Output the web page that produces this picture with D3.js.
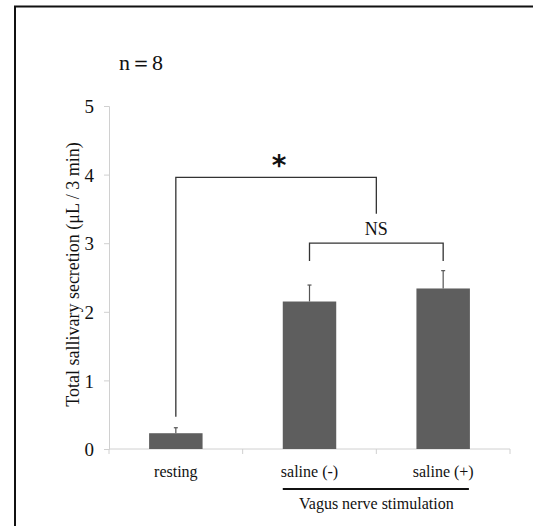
<!DOCTYPE html>
<html>
<head>
<meta charset="utf-8">
<script src="https://cdn.jsdelivr.net/npm/d3@7"></script>
<style>
  body { margin: 0; background: #fff; }
  svg text { font-family: "Liberation Serif", "Times New Roman", serif !important; fill: #111; }
  svg text.star { font-family: "DejaVu Sans", sans-serif !important; }
</style>
</head>
<body>
<div class="chart"></div>
<script>
// data
var categories = ["resting", "saline (-)", "saline (+)"];
var means = [0.23, 2.15, 2.34];
var errors = [0.08, 0.24, 0.26];
var yTicks = [0, 1, 2, 3, 4, 5];

var svgWidth = 533;
var svgHeight = 526;
var margin = {top: 106, right: 23, bottom: 77, left: 109};
var width = svgWidth - margin.left - margin.right;
var height = svgHeight - margin.top - margin.bottom;

var root = d3.select(".chart").append("svg")
  .attr("width", svgWidth)
  .attr("height", svgHeight);

// frame (only top and left edges fall inside the picture)
root.append("path")
  .attr("d", "M15," + svgHeight + "V6.5H" + svgWidth)
  .attr("fill", "none")
  .attr("stroke", "#111")
  .attr("stroke-width", 2);

root.append("text")
  .attr("x", 119).attr("y", 70)
  .style("font-size", "22px")
  .text("n\uff1d8");

var svg = root.append("g")
  .attr("transform", "translate(" + margin.left + "," + margin.top + ")");

var x = d3.scaleBand().domain(categories).range([0, width]).paddingInner(0.6).paddingOuter(0.3);
var y = d3.scaleLinear().domain([0, 5]).range([height, 0]);

// y axis
var yAxis = svg.append("g").call(d3.axisLeft(y).tickValues(yTicks).tickSize(5).tickFormat(d3.format("d")));
yAxis.attr("font-family", null);
yAxis.selectAll("line, path").attr("stroke", "#d0d0d0");
yAxis.selectAll("text").attr("x", -15).attr("dy", "0.35em").style("font-size", "19px");

// x axis line with ticks at band borders
svg.append("line")
  .attr("x1", 0).attr("x2", width)
  .attr("y1", height).attr("y2", height)
  .attr("stroke", "#d0d0d0");
d3.range(categories.length + 1).forEach(function(i) {
  svg.append("line")
    .attr("x1", i * width / categories.length).attr("x2", i * width / categories.length)
    .attr("y1", height).attr("y2", height + 5)
    .attr("stroke", "#d0d0d0");
});

var cx = function(c) { return x(c) + x.bandwidth() / 2; };

// error bars
categories.forEach(function(c, i) {
  svg.append("line")
    .attr("x1", cx(c)).attr("x2", cx(c))
    .attr("y1", y(means[i])).attr("y2", y(means[i] + errors[i]))
    .attr("stroke", "#555").attr("stroke-width", 1.2);
  svg.append("line")
    .attr("x1", cx(c) - 2).attr("x2", cx(c) + 2)
    .attr("y1", y(means[i] + errors[i])).attr("y2", y(means[i] + errors[i]))
    .attr("stroke", "#555").attr("stroke-width", 1.2);
});

// bars
svg.selectAll(".bar")
  .data(means)
  .enter().append("rect")
  .attr("class", "bar")
  .attr("x", function(d, i) { return x(categories[i]); })
  .attr("width", x.bandwidth())
  .attr("y", function(d) { return y(d); })
  .attr("height", function(d) { return height - y(d); })
  .attr("fill", "#5e5e5e");

// x labels
categories.forEach(function(c) {
  svg.append("text")
    .attr("x", cx(c)).attr("y", height + 28)
    .attr("text-anchor", "middle")
    .style("font-size", "16px")
    .text(c);
});

// significance brackets
var midStim = (cx(categories[1]) + cx(categories[2])) / 2;
svg.append("path")
  .attr("d", "M" + cx(categories[0]) + "," + y(0.47) + "V" + y(3.96) + "H" + midStim + "V" + y(3.43))
  .attr("fill", "none").attr("stroke", "#333").attr("stroke-width", 1.3);
svg.append("text")
  .attr("class", "star")
  .attr("x", (cx(categories[0]) + midStim) / 2 + 3).attr("y", y(3.96) - 2)
  .attr("text-anchor", "middle")
  .style("font-size", "28px").style("font-weight", "bold")
  .text("*");

svg.append("path")
  .attr("d", "M" + cx(categories[1]) + "," + y(2.74) + "V" + y(3.0) + "H" + cx(categories[2]) + "V" + y(2.74))
  .attr("fill", "none").attr("stroke", "#333").attr("stroke-width", 1.3);
svg.append("text")
  .attr("x", midStim).attr("y", y(3.0) - 8)
  .attr("text-anchor", "middle")
  .style("font-size", "18px")
  .text("NS");

// stimulation group line
svg.append("line")
  .attr("x1", x(categories[1])).attr("x2", x(categories[2]) + x.bandwidth() - 1)
  .attr("y1", height + 40).attr("y2", height + 40)
  .attr("stroke", "#111").attr("stroke-width", 2.2);
svg.append("text")
  .attr("x", midStim).attr("y", height + 60)
  .attr("text-anchor", "middle")
  .style("font-size", "16px")
  .text("Vagus nerve stimulation");

// y label
root.append("text")
  .attr("transform", "translate(79," + (margin.top + y(2.5) - 3) + ") rotate(-90)")
  .attr("text-anchor", "middle")
  .style("font-size", "18px")
  .text("Total sallivary secretion (\u03bcL / 3 min)");
</script>
</body>
</html>
